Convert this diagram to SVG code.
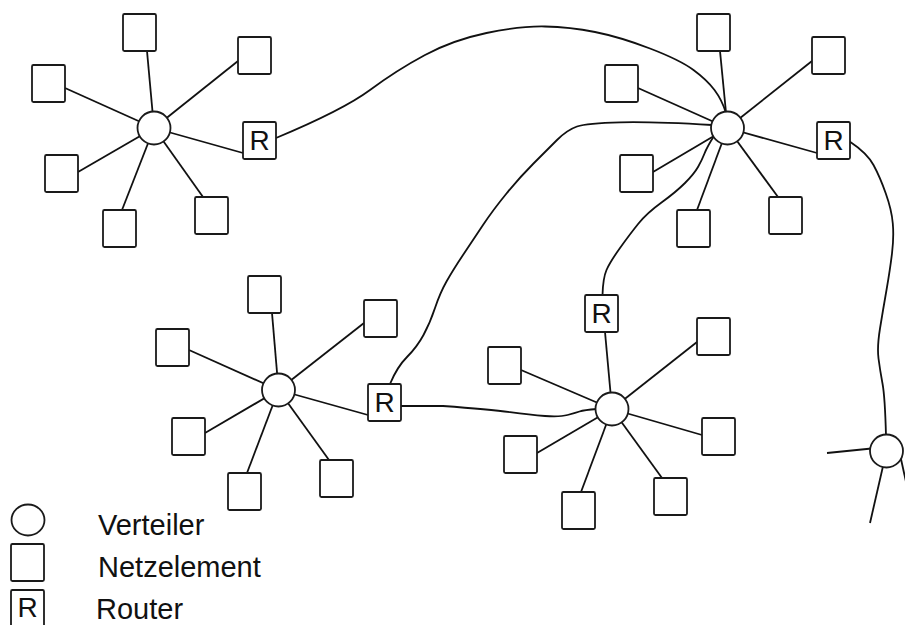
<svg xmlns="http://www.w3.org/2000/svg" width="905" height="625" viewBox="0 0 905 625">
  <style>
    .box { fill: #fff; stroke: #1a1a1a; stroke-width: 1.8; }
    .hub { fill: #fff; stroke: #1a1a1a; stroke-width: 1.8; }
    .spoke { stroke: #111; stroke-width: 1.8; fill: none; }
    .link { stroke: #111; stroke-width: 1.8; fill: none; stroke-linecap: round; }
    .r { font-family: "Liberation Sans", Arial, sans-serif; font-size: 28px; fill: #111; text-anchor: middle; }
    .lbl { font-family: "Liberation Sans", Arial, sans-serif; font-size: 29px; fill: #111; }
  </style>
  <rect width="905" height="625" fill="#fff"/>

  <!-- long-distance links between distributors and routers -->
  <g id="connectors">
    <path class="link" d="M276,138 Q343,110 370,90 Q397,70 425,55 Q453,40 486.5,33 Q520,26 545,26.5 Q570,27 595,32 Q620,37 650,48.5 Q680,60 693.5,70 Q707,80 714.5,90 Q722,100 726,113"/>
    <path class="link" d="M390,384 Q397,367 407,357 Q417,347 423.5,335 Q430,323 435,308 Q440,293 446.5,281.5 Q453,270 463,255 Q473,240 483,225 Q493,210 506.5,193.5 Q520,177 533.5,163.5 Q547,150 557,140 Q567,130 577,126.5 Q587,123 620,122.3 Q653,121.5 712,125"/>
    <path class="link" d="M602.5,295 Q603,278 606.5,270 Q610,262 620,248 Q630,234 638.5,223.5 Q647,213 661.5,202.5 Q676,192 685,183 Q694,174 698,167 Q702,160 704.5,153.5 Q707,147 714,136"/>
    <path class="link" d="M401,406 L443,406 Q490,409.5 510,412.2 Q530,415 545,416 Q560,417 567.5,415 Q575,413 579.5,411.5 Q584,410 597,409"/>
    <path class="link" d="M850,141.7 Q867,153 873.5,165 Q880,177 885.8,193.5 Q891.7,210 892.8,223.5 Q894,237 892,253.5 Q890,270 886.5,290 Q883,310 880,328.5 Q877,347 878.5,358.5 Q880,370 882.5,383.5 Q885,397 886,436"/>
  </g>

  <!-- star 1 -->
  <g id="star1">
    <g class="spoke">
      <line x1="147" y1="51" x2="154" y2="128"/>
      <line x1="238" y1="61" x2="154" y2="128"/>
      <line x1="65" y1="88" x2="154" y2="128"/>
      <line x1="78" y1="172" x2="154" y2="128"/>
      <line x1="122" y1="210" x2="154" y2="128"/>
      <line x1="203" y1="197" x2="154" y2="128"/>
      <line x1="243" y1="153" x2="154" y2="128"/>
    </g>
    <circle id="hub1" class="hub" cx="154" cy="128" r="16.5"/>
    <rect class="box" x="123" y="14" width="33" height="37" rx="1.5"/>
    <rect class="box" x="238" y="37" width="33" height="37" rx="1.5"/>
    <rect class="box" x="32" y="65" width="33" height="37" rx="1.5"/>
    <rect class="box" x="45" y="155" width="33" height="37" rx="1.5"/>
    <rect class="box" x="103" y="210" width="33" height="37" rx="1.5"/>
    <rect class="box" x="195" y="197" width="33" height="37" rx="1.5"/>
    <g id="router1">
      <rect class="box" x="243" y="122" width="33" height="37" rx="1.5"/>
      <text class="r" x="259.5" y="150">R</text>
    </g>
  </g>

  <!-- star 2 -->
  <g id="star2">
    <g class="spoke">
      <line x1="720" y1="51" x2="727.5" y2="128"/>
      <line x1="812" y1="61" x2="727.5" y2="128"/>
      <line x1="638" y1="88" x2="727.5" y2="128"/>
      <line x1="653" y1="172" x2="727.5" y2="128"/>
      <line x1="697" y1="210" x2="727.5" y2="128"/>
      <line x1="778" y1="197" x2="727.5" y2="128"/>
      <line x1="817" y1="153" x2="727.5" y2="128"/>
    </g>
    <circle id="hub2" class="hub" cx="727.5" cy="128" r="16.5"/>
    <rect class="box" x="697" y="14" width="33" height="37" rx="1.5"/>
    <rect class="box" x="812" y="37" width="33" height="37" rx="1.5"/>
    <rect class="box" x="605" y="65" width="33" height="37" rx="1.5"/>
    <rect class="box" x="620" y="155" width="33" height="37" rx="1.5"/>
    <rect class="box" x="677" y="210" width="33" height="37" rx="1.5"/>
    <rect class="box" x="769" y="197" width="33" height="37" rx="1.5"/>
    <g id="router2">
      <rect class="box" x="817" y="122" width="33" height="37" rx="1.5"/>
      <text class="r" x="833.5" y="150">R</text>
    </g>
  </g>

  <!-- star 3 -->
  <g id="star3">
    <g class="spoke">
      <line x1="272" y1="313" x2="278.5" y2="390"/>
      <line x1="364" y1="323" x2="278.5" y2="390"/>
      <line x1="189" y1="350" x2="278.5" y2="390"/>
      <line x1="205" y1="433" x2="278.5" y2="390"/>
      <line x1="247" y1="473" x2="278.5" y2="390"/>
      <line x1="329" y1="460" x2="278.5" y2="390"/>
      <line x1="368" y1="415" x2="278.5" y2="390"/>
    </g>
    <circle id="hub3" class="hub" cx="278.5" cy="390" r="16.5"/>
    <rect class="box" x="248" y="276" width="33" height="37" rx="1.5"/>
    <rect class="box" x="364" y="300" width="33" height="37" rx="1.5"/>
    <rect class="box" x="156" y="329" width="33" height="37" rx="1.5"/>
    <rect class="box" x="172" y="418" width="33" height="37" rx="1.5"/>
    <rect class="box" x="228" y="473" width="33" height="37" rx="1.5"/>
    <rect class="box" x="320" y="460" width="33" height="37" rx="1.5"/>
    <g id="router3">
      <rect class="box" x="368" y="384" width="33" height="37" rx="1.5"/>
      <text class="r" x="384.5" y="412">R</text>
    </g>
  </g>

  <!-- star 4 -->
  <g id="star4">
    <g class="spoke">
      <line x1="605" y1="332" x2="612" y2="409"/>
      <line x1="697" y1="342" x2="612" y2="409"/>
      <line x1="521" y1="370" x2="612" y2="409"/>
      <line x1="537" y1="453" x2="612" y2="409"/>
      <line x1="581" y1="492" x2="612" y2="409"/>
      <line x1="662" y1="478" x2="612" y2="409"/>
      <line x1="702" y1="435" x2="612" y2="409"/>
    </g>
    <circle id="hub4" class="hub" cx="612" cy="409" r="16.5"/>
    <g id="router4">
      <rect class="box" x="585" y="295" width="33" height="37" rx="1.5"/>
      <text class="r" x="601.5" y="323">R</text>
    </g>
    <rect class="box" x="697" y="318" width="33" height="37" rx="1.5"/>
    <rect class="box" x="488" y="347" width="33" height="37" rx="1.5"/>
    <rect class="box" x="504" y="436" width="33" height="37" rx="1.5"/>
    <rect class="box" x="562" y="492" width="33" height="37" rx="1.5"/>
    <rect class="box" x="654" y="478" width="33" height="37" rx="1.5"/>
    <rect class="box" x="702" y="418" width="33" height="37" rx="1.5"/>
  </g>

  <!-- star 5, cut off at the right edge -->
  <g id="star5">
    <g class="spoke">
      <line x1="827" y1="453" x2="886.5" y2="447"/>
      <line x1="870" y1="523" x2="886.5" y2="451"/>
      <line x1="899" y1="450" x2="910" y2="500"/>
    </g>
    <circle id="hub5" class="hub" cx="886.5" cy="451" r="16.5"/>
  </g>

  <!-- legend -->
  <g id="legend">
    <ellipse class="hub" cx="28" cy="520" rx="16.5" ry="15.5"/>
    <text class="lbl" x="98" y="535">Verteiler</text>
    <rect class="box" x="11" y="544" width="33" height="37" rx="1.5"/>
    <text class="lbl" x="98" y="577">Netzelement</text>
    <rect class="box" x="11" y="590" width="33" height="37" rx="1.5"/>
    <text class="r" x="27.5" y="617">R</text>
    <text class="lbl" x="96" y="619">Router</text>
  </g>
</svg>
